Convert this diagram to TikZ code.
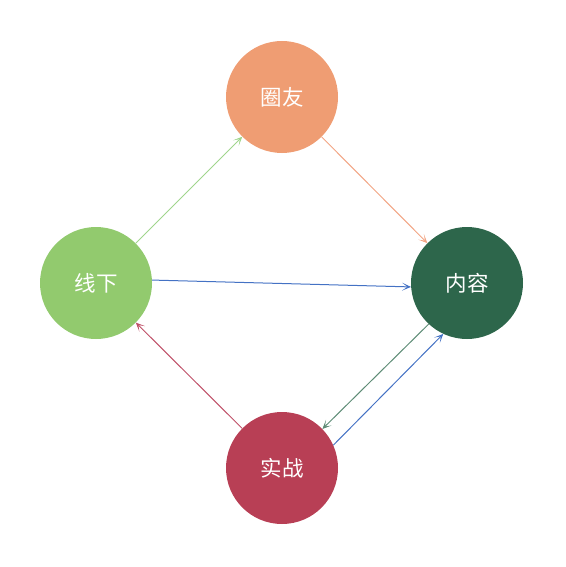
\documentclass[tikz,border=0pt]{standalone}
\usepackage{fontspec}
\newfontfamily\cjk{Noto Sans CJK SC}
\usetikzlibrary{arrows.meta}
\definecolor{cTop}{HTML}{EF9D73}
\definecolor{cLeft}{HTML}{92CA6E}
\definecolor{cRight}{HTML}{2D664B}
\definecolor{cBot}{HTML}{B83F55}
\definecolor{aGreen}{HTML}{9FD58C}
\definecolor{aOrange}{HTML}{F2A584}
\definecolor{aBlue}{HTML}{4472C4}
\definecolor{aDark}{HTML}{5E8C76}
\definecolor{aRed}{HTML}{BF5068}
\begin{document}
\begin{tikzpicture}[x=1bp,y=-1bp,
  ball/.style={circle,minimum size=112bp,inner sep=0pt,text=white,font=\cjk\fontsize{21.5bp}{26bp}\selectfont},
  link/.style={line width=1bp,-{Stealth[length=9bp,width=8bp,inset=5.5bp]}}]
\useasboundingbox (0,0) rectangle (566,567);
\node[ball,fill=cTop] (quan) at (282,97) {圈友};
\node[ball,fill=cLeft] (xian) at (96,283) {线下};
\node[ball,fill=cRight] (nei) at (467,283) {内容};
\node[ball,fill=cBot] (shi) at (282,468) {实战};
\draw[link,aGreen] (xian) -- (quan);
\draw[link,aOrange] (quan) -- (nei);
\draw[link,aBlue] (xian.3) -- (nei.184);
\draw[link,aDark,-{Stealth[length=9bp,width=8bp,inset=5.5bp,fill=cRight]}] (nei.227) -- (shi.44);
\draw[link,aBlue] (shi.24) -- (nei.245);
\draw[link,aRed] (shi) -- (xian);
\end{tikzpicture}
\end{document}
